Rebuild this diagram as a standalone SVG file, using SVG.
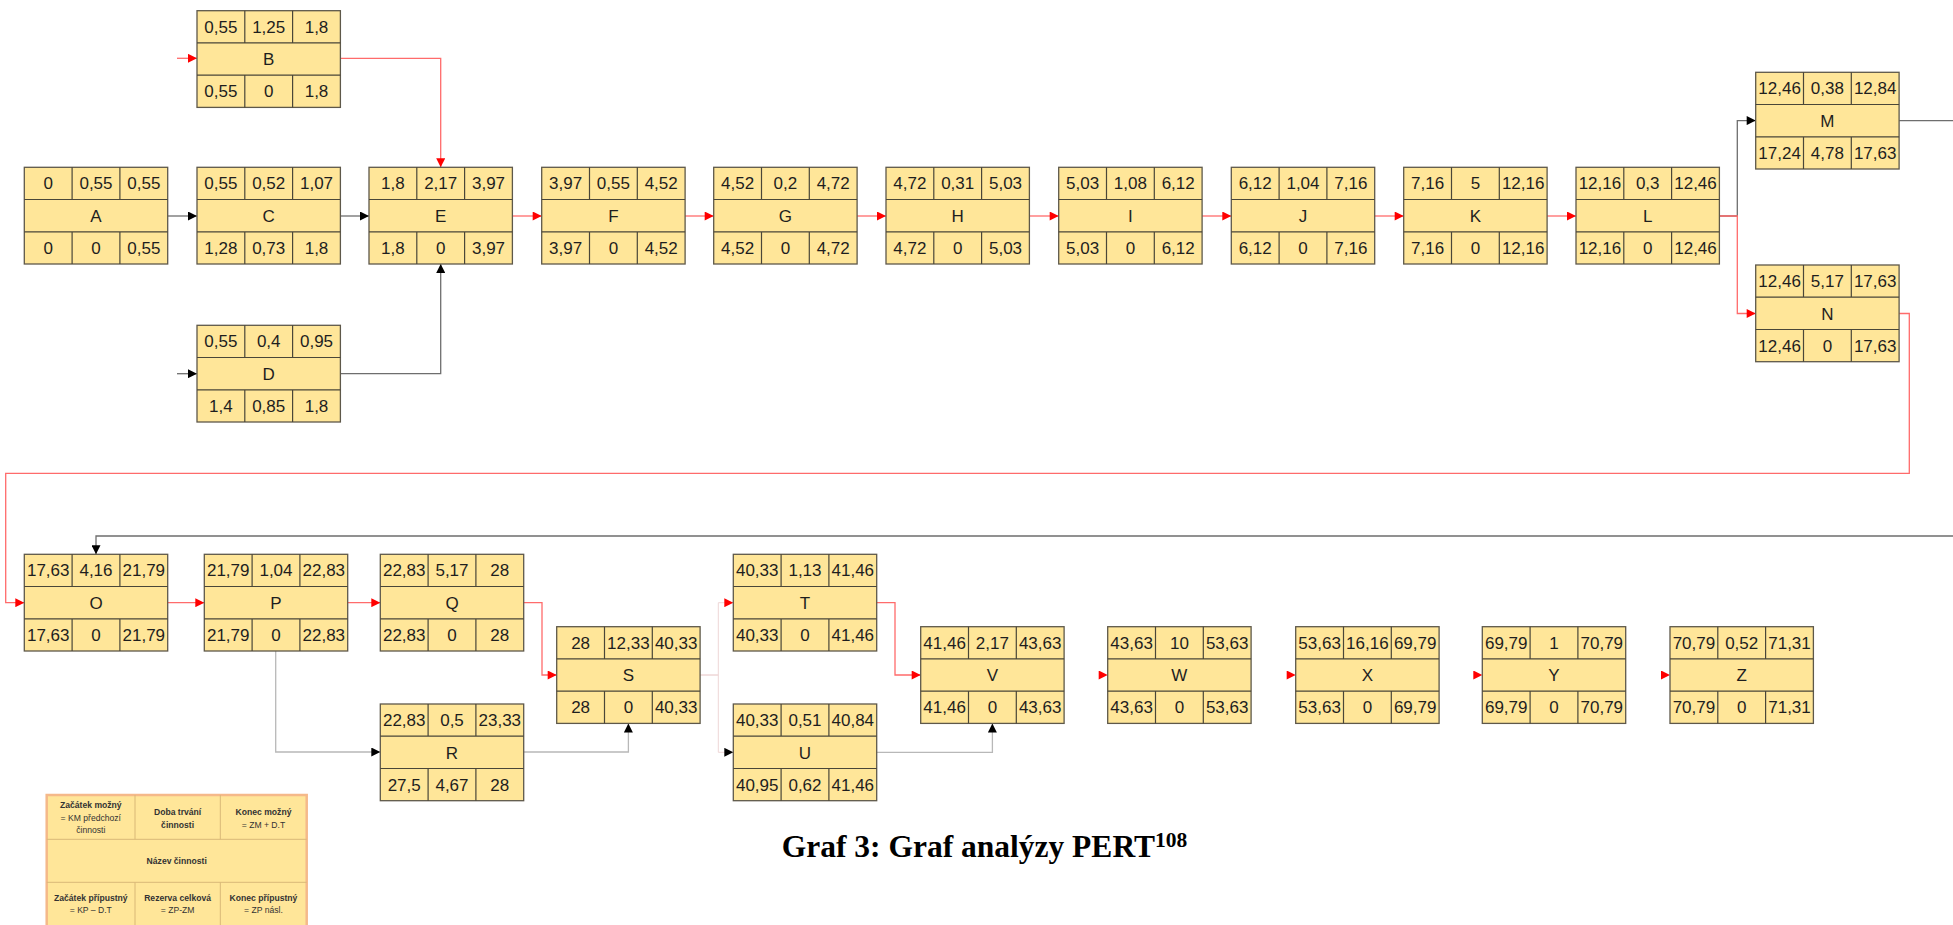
<svg xmlns="http://www.w3.org/2000/svg" width="1953" height="925" viewBox="0 0 1953 925">
<defs>
<style>
.box{fill:#ffe699;stroke:#5e584a;stroke-width:1.3}
.grid{fill:none;stroke:#4a4638;stroke-width:1.2}
.node text{font-family:"Liberation Sans",Arial,sans-serif;font-size:17px;fill:#1e1e1e;text-anchor:middle}
.red{fill:none;stroke:#ff6b6b;stroke-width:1.3}
.blk{fill:none;stroke:#6e6e6e;stroke-width:1.3}
.gry{fill:none;stroke:#b8b8b8;stroke-width:1.3}
.faint{fill:none;stroke:#eed6d6;stroke-width:1}
.none{fill:none;stroke:none}
.lg{fill:#ffe699;stroke:#f5b98a;stroke-width:2.5}
.lgl{fill:none;stroke:#d9b877;stroke-width:1}
.lt{font-family:"Liberation Sans",Arial,sans-serif;font-size:8.6px;fill:#333;text-anchor:middle}
.lb{font-weight:bold}
.title{font-family:"Liberation Serif","Times New Roman",serif;font-weight:bold;font-size:31.5px;fill:#000}
</style>
<marker id="arrR" viewBox="0 0 10 10" refX="10" refY="5" markerWidth="10" markerHeight="9" markerUnits="userSpaceOnUse" orient="auto"><path d="M0,0L10,5L0,10z" fill="#ff0000"/></marker>
<marker id="arrK" viewBox="0 0 10 10" refX="10" refY="5" markerWidth="10" markerHeight="9" markerUnits="userSpaceOnUse" orient="auto"><path d="M0,0L10,5L0,10z" fill="#000"/></marker>
<path id="cells" d="M0,32.2H143.4M0,64.5H143.4M47.8,0V32.2M95.6,0V32.2M47.8,64.5V96.7M95.6,64.5V96.7"/>
</defs>
<rect width="1953" height="925" fill="#fff"/>

<g id="connectors">
<path class="red" marker-end="url(#arrR)" d="M177,58.3H197"/>
<path class="blk" marker-end="url(#arrK)" d="M177,373.7H197"/>
<path class="red" marker-end="url(#arrR)" d="M340.4,58.3H440.7V167.3"/>
<path class="blk" marker-end="url(#arrK)" d="M340.4,373.7H440.7V264"/>
<path class="blk" marker-end="url(#arrK)" d="M167.7,216H197"/>
<path class="blk" marker-end="url(#arrK)" d="M340.4,216H369"/>
<path class="red" marker-end="url(#arrR)" d="M512.4,216H541.7"/>
<path class="red" marker-end="url(#arrR)" d="M685.1,216H713.7"/>
<path class="red" marker-end="url(#arrR)" d="M857.1,216H886"/>
<path class="red" marker-end="url(#arrR)" d="M1029.4,216H1058.7"/>
<path class="red" marker-end="url(#arrR)" d="M1202.1,216H1231.3"/>
<path class="red" marker-end="url(#arrR)" d="M1374.7,216H1403.7"/>
<path class="red" marker-end="url(#arrR)" d="M1547.1,216H1576"/>
<path class="blk" marker-end="url(#arrK)" d="M1719.4,216H1737.3V120.6H1755.7"/>
<path class="red" marker-end="url(#arrR)" d="M1719.4,216H1737.3V313.5H1755.7"/>
<path class="blk" marker-end="url(#arrK)" d="M1899.1,120.6H1975V536H96V554.3"/>
<path class="red" marker-end="url(#arrR)" d="M1899.1,313.5H1909.3V473.3H5.7V602.7H24.3"/>
<path class="red" marker-end="url(#arrR)" d="M167.7,602.7H204.3"/>
<path class="red" marker-end="url(#arrR)" d="M347.7,602.7H380.3"/>
<path class="gry" marker-end="url(#arrK)" d="M275.7,651V752H380.3"/>
<path class="red" marker-end="url(#arrR)" d="M523.7,602.7H542V675H556.7"/>
<path class="gry" marker-end="url(#arrK)" d="M523.7,752H628.4V723.4"/>
<path class="faint" marker-end="url(#arrR)" d="M700.1,675H718.3V602.7H733.3"/>
<path class="faint" marker-end="url(#arrK)" d="M700.1,675H718.3V752.3H733.3"/>
<path class="red" marker-end="url(#arrR)" d="M876.7,602.7H895V675H920.7"/>
<path class="gry" marker-end="url(#arrK)" d="M876.7,752.3H992.4V723.4"/>
<path class="none" marker-end="url(#arrR)" d="M1064.1,675H1107.7"/>
<path class="none" marker-end="url(#arrR)" d="M1251.1,675H1295.7"/>
<path class="none" marker-end="url(#arrR)" d="M1439.1,675H1482.3"/>
<path class="none" marker-end="url(#arrR)" d="M1625.7,675H1670"/>
</g>

<g id="node-A" class="node" transform="translate(24.3,167.3)"><rect class="box" width="143.4" height="96.7"/><use href="#cells" class="grid"/><text x="23.9" y="22">0</text><text x="71.7" y="22">0,55</text><text x="119.5" y="22">0,55</text><text x="71.7" y="54.5">A</text><text x="23.9" y="86.8">0</text><text x="71.7" y="86.8">0</text><text x="119.5" y="86.8">0,55</text></g>
<g id="node-B" class="node" transform="translate(197,10.7)"><rect class="box" width="143.4" height="96.7"/><use href="#cells" class="grid"/><text x="23.9" y="22">0,55</text><text x="71.7" y="22">1,25</text><text x="119.5" y="22">1,8</text><text x="71.7" y="54.5">B</text><text x="23.9" y="86.8">0,55</text><text x="71.7" y="86.8">0</text><text x="119.5" y="86.8">1,8</text></g>
<g id="node-C" class="node" transform="translate(197,167.3)"><rect class="box" width="143.4" height="96.7"/><use href="#cells" class="grid"/><text x="23.9" y="22">0,55</text><text x="71.7" y="22">0,52</text><text x="119.5" y="22">1,07</text><text x="71.7" y="54.5">C</text><text x="23.9" y="86.8">1,28</text><text x="71.7" y="86.8">0,73</text><text x="119.5" y="86.8">1,8</text></g>
<g id="node-D" class="node" transform="translate(197,325.3)"><rect class="box" width="143.4" height="96.7"/><use href="#cells" class="grid"/><text x="23.9" y="22">0,55</text><text x="71.7" y="22">0,4</text><text x="119.5" y="22">0,95</text><text x="71.7" y="54.5">D</text><text x="23.9" y="86.8">1,4</text><text x="71.7" y="86.8">0,85</text><text x="119.5" y="86.8">1,8</text></g>
<g id="node-E" class="node" transform="translate(369,167.3)"><rect class="box" width="143.4" height="96.7"/><use href="#cells" class="grid"/><text x="23.9" y="22">1,8</text><text x="71.7" y="22">2,17</text><text x="119.5" y="22">3,97</text><text x="71.7" y="54.5">E</text><text x="23.9" y="86.8">1,8</text><text x="71.7" y="86.8">0</text><text x="119.5" y="86.8">3,97</text></g>
<g id="node-F" class="node" transform="translate(541.7,167.3)"><rect class="box" width="143.4" height="96.7"/><use href="#cells" class="grid"/><text x="23.9" y="22">3,97</text><text x="71.7" y="22">0,55</text><text x="119.5" y="22">4,52</text><text x="71.7" y="54.5">F</text><text x="23.9" y="86.8">3,97</text><text x="71.7" y="86.8">0</text><text x="119.5" y="86.8">4,52</text></g>
<g id="node-G" class="node" transform="translate(713.7,167.3)"><rect class="box" width="143.4" height="96.7"/><use href="#cells" class="grid"/><text x="23.9" y="22">4,52</text><text x="71.7" y="22">0,2</text><text x="119.5" y="22">4,72</text><text x="71.7" y="54.5">G</text><text x="23.9" y="86.8">4,52</text><text x="71.7" y="86.8">0</text><text x="119.5" y="86.8">4,72</text></g>
<g id="node-H" class="node" transform="translate(886,167.3)"><rect class="box" width="143.4" height="96.7"/><use href="#cells" class="grid"/><text x="23.9" y="22">4,72</text><text x="71.7" y="22">0,31</text><text x="119.5" y="22">5,03</text><text x="71.7" y="54.5">H</text><text x="23.9" y="86.8">4,72</text><text x="71.7" y="86.8">0</text><text x="119.5" y="86.8">5,03</text></g>
<g id="node-I" class="node" transform="translate(1058.7,167.3)"><rect class="box" width="143.4" height="96.7"/><use href="#cells" class="grid"/><text x="23.9" y="22">5,03</text><text x="71.7" y="22">1,08</text><text x="119.5" y="22">6,12</text><text x="71.7" y="54.5">I</text><text x="23.9" y="86.8">5,03</text><text x="71.7" y="86.8">0</text><text x="119.5" y="86.8">6,12</text></g>
<g id="node-J" class="node" transform="translate(1231.3,167.3)"><rect class="box" width="143.4" height="96.7"/><use href="#cells" class="grid"/><text x="23.9" y="22">6,12</text><text x="71.7" y="22">1,04</text><text x="119.5" y="22">7,16</text><text x="71.7" y="54.5">J</text><text x="23.9" y="86.8">6,12</text><text x="71.7" y="86.8">0</text><text x="119.5" y="86.8">7,16</text></g>
<g id="node-K" class="node" transform="translate(1403.7,167.3)"><rect class="box" width="143.4" height="96.7"/><use href="#cells" class="grid"/><text x="23.9" y="22">7,16</text><text x="71.7" y="22">5</text><text x="119.5" y="22">12,16</text><text x="71.7" y="54.5">K</text><text x="23.9" y="86.8">7,16</text><text x="71.7" y="86.8">0</text><text x="119.5" y="86.8">12,16</text></g>
<g id="node-L" class="node" transform="translate(1576,167.3)"><rect class="box" width="143.4" height="96.7"/><use href="#cells" class="grid"/><text x="23.9" y="22">12,16</text><text x="71.7" y="22">0,3</text><text x="119.5" y="22">12,46</text><text x="71.7" y="54.5">L</text><text x="23.9" y="86.8">12,16</text><text x="71.7" y="86.8">0</text><text x="119.5" y="86.8">12,46</text></g>
<g id="node-M" class="node" transform="translate(1755.7,72.3)"><rect class="box" width="143.4" height="96.7"/><use href="#cells" class="grid"/><text x="23.9" y="22">12,46</text><text x="71.7" y="22">0,38</text><text x="119.5" y="22">12,84</text><text x="71.7" y="54.5">M</text><text x="23.9" y="86.8">17,24</text><text x="71.7" y="86.8">4,78</text><text x="119.5" y="86.8">17,63</text></g>
<g id="node-N" class="node" transform="translate(1755.7,265)"><rect class="box" width="143.4" height="96.7"/><use href="#cells" class="grid"/><text x="23.9" y="22">12,46</text><text x="71.7" y="22">5,17</text><text x="119.5" y="22">17,63</text><text x="71.7" y="54.5">N</text><text x="23.9" y="86.8">12,46</text><text x="71.7" y="86.8">0</text><text x="119.5" y="86.8">17,63</text></g>
<g id="node-O" class="node" transform="translate(24.3,554.3)"><rect class="box" width="143.4" height="96.7"/><use href="#cells" class="grid"/><text x="23.9" y="22">17,63</text><text x="71.7" y="22">4,16</text><text x="119.5" y="22">21,79</text><text x="71.7" y="54.5">O</text><text x="23.9" y="86.8">17,63</text><text x="71.7" y="86.8">0</text><text x="119.5" y="86.8">21,79</text></g>
<g id="node-P" class="node" transform="translate(204.3,554.3)"><rect class="box" width="143.4" height="96.7"/><use href="#cells" class="grid"/><text x="23.9" y="22">21,79</text><text x="71.7" y="22">1,04</text><text x="119.5" y="22">22,83</text><text x="71.7" y="54.5">P</text><text x="23.9" y="86.8">21,79</text><text x="71.7" y="86.8">0</text><text x="119.5" y="86.8">22,83</text></g>
<g id="node-Q" class="node" transform="translate(380.3,554.3)"><rect class="box" width="143.4" height="96.7"/><use href="#cells" class="grid"/><text x="23.9" y="22">22,83</text><text x="71.7" y="22">5,17</text><text x="119.5" y="22">28</text><text x="71.7" y="54.5">Q</text><text x="23.9" y="86.8">22,83</text><text x="71.7" y="86.8">0</text><text x="119.5" y="86.8">28</text></g>
<g id="node-R" class="node" transform="translate(380.3,704)"><rect class="box" width="143.4" height="96.7"/><use href="#cells" class="grid"/><text x="23.9" y="22">22,83</text><text x="71.7" y="22">0,5</text><text x="119.5" y="22">23,33</text><text x="71.7" y="54.5">R</text><text x="23.9" y="86.8">27,5</text><text x="71.7" y="86.8">4,67</text><text x="119.5" y="86.8">28</text></g>
<g id="node-S" class="node" transform="translate(556.7,626.7)"><rect class="box" width="143.4" height="96.7"/><use href="#cells" class="grid"/><text x="23.9" y="22">28</text><text x="71.7" y="22">12,33</text><text x="119.5" y="22">40,33</text><text x="71.7" y="54.5">S</text><text x="23.9" y="86.8">28</text><text x="71.7" y="86.8">0</text><text x="119.5" y="86.8">40,33</text></g>
<g id="node-T" class="node" transform="translate(733.3,554.3)"><rect class="box" width="143.4" height="96.7"/><use href="#cells" class="grid"/><text x="23.9" y="22">40,33</text><text x="71.7" y="22">1,13</text><text x="119.5" y="22">41,46</text><text x="71.7" y="54.5">T</text><text x="23.9" y="86.8">40,33</text><text x="71.7" y="86.8">0</text><text x="119.5" y="86.8">41,46</text></g>
<g id="node-U" class="node" transform="translate(733.3,704)"><rect class="box" width="143.4" height="96.7"/><use href="#cells" class="grid"/><text x="23.9" y="22">40,33</text><text x="71.7" y="22">0,51</text><text x="119.5" y="22">40,84</text><text x="71.7" y="54.5">U</text><text x="23.9" y="86.8">40,95</text><text x="71.7" y="86.8">0,62</text><text x="119.5" y="86.8">41,46</text></g>
<g id="node-V" class="node" transform="translate(920.7,626.7)"><rect class="box" width="143.4" height="96.7"/><use href="#cells" class="grid"/><text x="23.9" y="22">41,46</text><text x="71.7" y="22">2,17</text><text x="119.5" y="22">43,63</text><text x="71.7" y="54.5">V</text><text x="23.9" y="86.8">41,46</text><text x="71.7" y="86.8">0</text><text x="119.5" y="86.8">43,63</text></g>
<g id="node-W" class="node" transform="translate(1107.7,626.7)"><rect class="box" width="143.4" height="96.7"/><use href="#cells" class="grid"/><text x="23.9" y="22">43,63</text><text x="71.7" y="22">10</text><text x="119.5" y="22">53,63</text><text x="71.7" y="54.5">W</text><text x="23.9" y="86.8">43,63</text><text x="71.7" y="86.8">0</text><text x="119.5" y="86.8">53,63</text></g>
<g id="node-X" class="node" transform="translate(1295.7,626.7)"><rect class="box" width="143.4" height="96.7"/><use href="#cells" class="grid"/><text x="23.9" y="22">53,63</text><text x="71.7" y="22">16,16</text><text x="119.5" y="22">69,79</text><text x="71.7" y="54.5">X</text><text x="23.9" y="86.8">53,63</text><text x="71.7" y="86.8">0</text><text x="119.5" y="86.8">69,79</text></g>
<g id="node-Y" class="node" transform="translate(1482.3,626.7)"><rect class="box" width="143.4" height="96.7"/><use href="#cells" class="grid"/><text x="23.9" y="22">69,79</text><text x="71.7" y="22">1</text><text x="119.5" y="22">70,79</text><text x="71.7" y="54.5">Y</text><text x="23.9" y="86.8">69,79</text><text x="71.7" y="86.8">0</text><text x="119.5" y="86.8">70,79</text></g>
<g id="node-Z" class="node" transform="translate(1670,626.7)"><rect class="box" width="143.4" height="96.7"/><use href="#cells" class="grid"/><text x="23.9" y="22">70,79</text><text x="71.7" y="22">0,52</text><text x="119.5" y="22">71,31</text><text x="71.7" y="54.5">Z</text><text x="23.9" y="86.8">70,79</text><text x="71.7" y="86.8">0</text><text x="119.5" y="86.8">71,31</text></g>

<g id="legend">
<rect class="lg" x="46.7" y="795" width="260" height="132"/>
<path class="lgl" d="M46.7,839.3H306.7M46.7,882.3H306.7M135,795V839.3M220.3,795V839.3M135,882.3V927M220.3,882.3V927"/>
<text class="lt lb" x="90.8" y="808">Začátek možný</text>
<text class="lt" x="90.8" y="820.5">= KM předchozí</text>
<text class="lt" x="90.8" y="833">činnosti</text>
<text class="lt lb" x="177.6" y="815">Doba trvání</text>
<text class="lt lb" x="177.6" y="827.5">činnosti</text>
<text class="lt lb" x="263.5" y="815">Konec možný</text>
<text class="lt" x="263.5" y="827.5">= ZM + D.T</text>
<text class="lt lb" x="176.7" y="864">Název činnosti</text>
<text class="lt lb" x="90.8" y="901">Začátek přípustný</text>
<text class="lt" x="90.8" y="913">= KP – D.T</text>
<text class="lt lb" x="177.6" y="901">Rezerva celková</text>
<text class="lt" x="177.6" y="913">= ZP-ZM</text>
<text class="lt lb" x="263.5" y="901">Konec přípustný</text>
<text class="lt" x="263.5" y="913">= ZP násl.</text>
</g>

<text class="title" x="781.7" y="857.3">Graf 3: Graf analýzy PERT<tspan font-size="21.5" dy="-10.6">108</tspan></text>
</svg>
